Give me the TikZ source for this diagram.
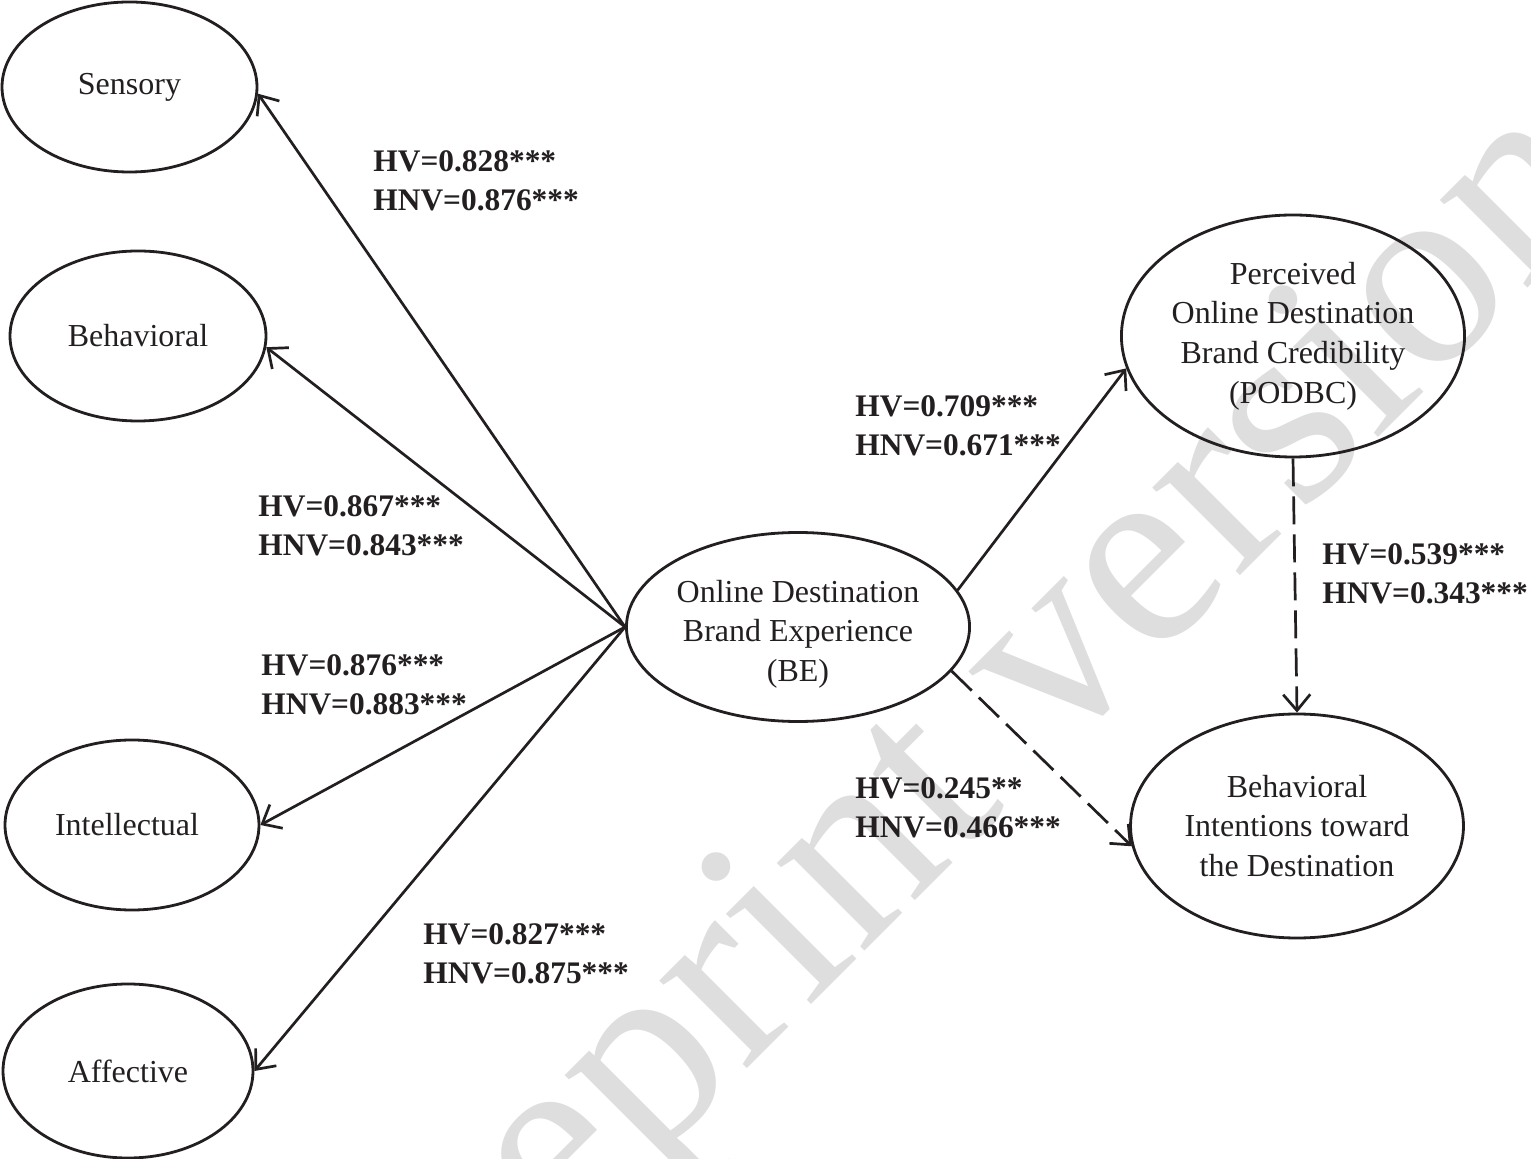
\documentclass[tikz,border=0pt]{standalone}
\usepackage{fontspec}
\setmainfont{Liberation Serif}
\usetikzlibrary{shapes.geometric,arrows.meta}
\definecolor{ink}{RGB}{35,31,32}
\tikzset{
  latent/.style={ellipse, draw=ink, line width=1.4pt, inner sep=0pt, align=center,
    font=\fontsize{16}{19.8}\selectfont, text=ink},
  conn/.style={draw=ink, line width=1.35pt, -{Straight Barb[length=8pt,width=13.5pt]}},
  dconn/.style={conn, dash pattern=on 14pt off 5pt},
  coef/.style={anchor=west, inner sep=0pt, align=left, text=ink,
    font=\fontsize{15.7}{19.5}\selectfont\bfseries},
  wmark/.style={rotate=45, anchor=base, text=black!13, inner sep=0pt,
    font=\fontsize{135}{135}\selectfont}
}
\begin{document}
\begin{tikzpicture}[x=0.5pt,y=-0.5pt]
\useasboundingbox (0,0) rectangle (1531,1159);
% watermark
\node[wmark] (wm) at (1006,810) {Preprint version};
% nodes
\node[latent, minimum width=127.5pt, minimum height=85pt] (sen) at (129.5,87) {Sensory};
\node[latent, minimum width=128pt, minimum height=85pt] (beh) at (138,336) {Behavioral};
\node[latent, minimum width=127pt, minimum height=85pt] (int) at (132,825) {\hspace*{-2.5pt}Intellectual\hspace*{2.5pt}};
\node[latent, minimum width=125pt, minimum height=87pt] (aff) at (128,1071) {Affective};
\node[latent, minimum width=168.5pt, minimum height=94.5pt] (be) at (798,627)
  {\raisebox{0pt}[\dimexpr\height+7pt\relax]{\begin{tabular}{@{}c@{}}Online Destination\\Brand Experience\\(BE)\end{tabular}}};
\node[latent, minimum width=166.5pt, minimum height=121pt] (po) at (1293,336) {Perceived\\Online Destination\\Brand Credibility\\(PODBC)};
\node[latent, minimum width=166.5pt, minimum height=112pt] (bi) at (1297,826) {Behavioral\\Intentions toward\\the Destination};
% connectors
\draw[conn] (be.west) -- (sen.-3);
\draw[conn] (be.west) -- (beh.-5);
\draw[conn] (be.west) -- (int.east);
\draw[conn] (be.west) -- (aff.east);
\draw[conn] (be.13) -- (po.191);
\draw[dconn] (be.-16) -- (bi.187);
\draw[dconn] (po.south) -- (bi.north);
% coefficients
\node[coef] (c1) at (373,181) {HV=0.828***\\HNV=0.876***};
\node[coef] (c2) at (258,526) {HV=0.867***\\HNV=0.843***};
\node[coef] (c3) at (261,685) {HV=0.876***\\HNV=0.883***};
\node[coef] (c4) at (423,954) {HV=0.827***\\HNV=0.875***};
\node[coef] (c5) at (855,426) {HV=0.709***\\HNV=0.671***};
\node[coef] (c6) at (1322,574) {HV=0.539***\\HNV=0.343***};
\node[coef] (c7) at (855,808) {HV=0.245**\\HNV=0.466***};
\end{tikzpicture}
\end{document}
